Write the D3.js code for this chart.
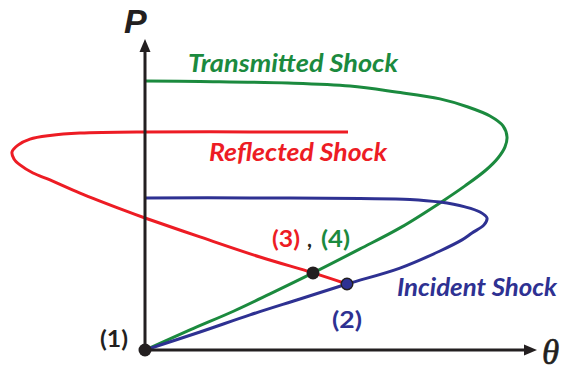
<!DOCTYPE html>
<html>
<head>
<meta charset="utf-8">
<script src="https://cdn.jsdelivr.net/npm/d3@7"></script>
<style>
  html, body { margin: 0; padding: 0; background: #fff; }
  svg { display: block; }
</style>
</head>
<body>
<svg id="chart" width="564" height="371"></svg>
<script>
// Shock polars in the (theta, p/p1) plane: [deflection angle, pressure ratio]
const transmitted = [
  [0, 9.97], [5.5, 9.95], [14.3, 9.9], [20.5, 9.8], [25.1, 9.6], [29.5, 9.37],
  [32.3, 9.1], [34.5, 8.8], [35.8, 8.47], [36.2, 8.1], [36.0, 7.77], [35.3, 7.4],
  [34.1, 7.0], [32.0, 6.47], [29.8, 5.97], [25.5, 5.07], [21.5, 4.37], [16.8, 3.57],
  [12.5, 2.87], [8.9, 2.3], [4.5, 1.67], [0, 1]
];
const incident = [
  [0, 6.07], [10.5, 6.07], [21.5, 6.05], [26.5, 6.02], [29.5, 5.93], [32.0, 5.77],
  [33.5, 5.6], [34.2, 5.4], [33.9, 5.17], [32.7, 4.9], [31.7, 4.67], [29.5, 4.3],
  [25.5, 3.73], [20.2, 3.2], [15.5, 2.7], [10.5, 2.17], [5.5, 1.6], [0, 1]
];
const reflected = [
  [20.3, 8.27], [10.5, 8.27], [0, 8.27], [-6.5, 8.23], [-9.5, 8.15], [-11.5, 8.03],
  [-12.7, 7.83], [-13.3, 7.6], [-13.1, 7.37], [-12.5, 7.17], [-11.2, 6.9], [-9.5, 6.67],
  [-6.5, 6.23], [-2.2, 5.67], [0, 5.4], [5.5, 4.77], [11.5, 4.1], [16.8, 3.57], [20.2, 3.2]
];
// Labelled states
const state1 = [0, 1];
const state2 = [20.2, 3.2];
const state34 = [16.8, 3.57];
// Axis extents
const thetaMax = 39.2;
const pMax = 11.37;

const colors = { green: "#1b8a3e", red: "#ed1c24", blue: "#2e3192", ink: "#231f20" };

const svg = d3.select("#chart");
const x = d3.scaleLinear().domain([0, 10]).range([145, 245]);
const y = d3.scaleLinear().domain([1, 11]).range([350, 50]);

const line = d3.line()
  .x(d => x(d[0]))
  .y(d => y(d[1]))
  .curve(d3.curveCatmullRom.alpha(0.5));

function polar(data, color) {
  svg.append("path")
    .attr("d", line(data))
    .attr("fill", "none")
    .attr("stroke", color)
    .attr("stroke-width", 3)
    .attr("stroke-linecap", "butt")
    .attr("stroke-linejoin", "round");
}
polar(transmitted, colors.green);
polar(incident, colors.blue);
polar(reflected, colors.red);

// Axes with arrow heads
const ax = svg.append("g").attr("stroke", colors.ink).attr("stroke-width", 3);
ax.append("line")
  .attr("x1", x(0)).attr("y1", y(1))
  .attr("x2", x(0)).attr("y2", y(pMax) + 10);
ax.append("line")
  .attr("x1", x(0)).attr("y1", y(1))
  .attr("x2", x(thetaMax) - 10).attr("y2", y(1));
const tipY = [x(0), y(pMax)];
const tipX = [x(thetaMax), y(1)];
svg.append("path")
  .attr("d", `M${tipY[0]},${tipY[1]} L${tipY[0] - 5.5},${tipY[1] + 13} L${tipY[0] + 5.5},${tipY[1] + 13} Z`)
  .attr("fill", colors.ink);
svg.append("path")
  .attr("d", `M${tipX[0]},${tipX[1]} L${tipX[0] - 13},${tipX[1] - 5.5} L${tipX[0] - 13},${tipX[1] + 5.5} Z`)
  .attr("fill", colors.ink);

// State points
svg.append("circle").attr("cx", x(state1[0])).attr("cy", y(state1[1])).attr("r", 6.5).attr("fill", colors.ink);
svg.append("circle").attr("cx", x(state34[0])).attr("cy", y(state34[1])).attr("r", 6.5).attr("fill", colors.ink);
svg.append("circle").attr("cx", x(state2[0])).attr("cy", y(state2[1])).attr("r", 5.8)
  .attr("fill", colors.blue).attr("stroke", colors.ink).attr("stroke-width", 1.4);

// Axis titles
svg.append("text").attr("x", 124).attr("y", 33)
  .attr("font-family", "Liberation Sans, Arial, sans-serif")
  .attr("font-weight", "bold").attr("font-style", "italic").attr("font-size", 34)
  .attr("fill", colors.ink).text("P");
svg.append("text").attr("x", 542).attr("y", 364)
  .attr("font-family", "Liberation Serif, Times New Roman, serif")
  .attr("font-style", "italic").attr("font-size", 35)
  .attr("stroke", colors.ink).attr("stroke-width", 0.6)
  .attr("fill", colors.ink).text("θ");

// Curve names
const nameFont = "Lato, 'Open Sans', sans-serif";
function label(txt, px, py, len, color, size, italic) {
  svg.append("text").attr("x", px).attr("y", py)
    .attr("font-family", nameFont)
    .attr("font-weight", "bold")
    .attr("font-style", italic ? "italic" : "normal")
    .attr("font-size", size)
    .attr("textLength", len).attr("lengthAdjust", "spacingAndGlyphs")
    .attr("fill", color).text(txt);
}
label("Transmitted Shock", 188, 72, 210, colors.green, 25, true);
label("Reflected Shock", 209, 161, 178, colors.red, 25, true);
label("Incident Shock", 397, 296, 160, colors.blue, 25, true);

// State labels
label("(3)", 272, 247, 28, colors.red, 23, false);
label(",", 307, 247, 5, colors.ink, 23, false);
label("(4)", 321, 247, 29, colors.green, 23, false);
label("(2)", 332, 328, 30, colors.blue, 23, false);
label("(1)", 100, 347, 28, colors.ink, 23, false);
</script>
</body>
</html>
